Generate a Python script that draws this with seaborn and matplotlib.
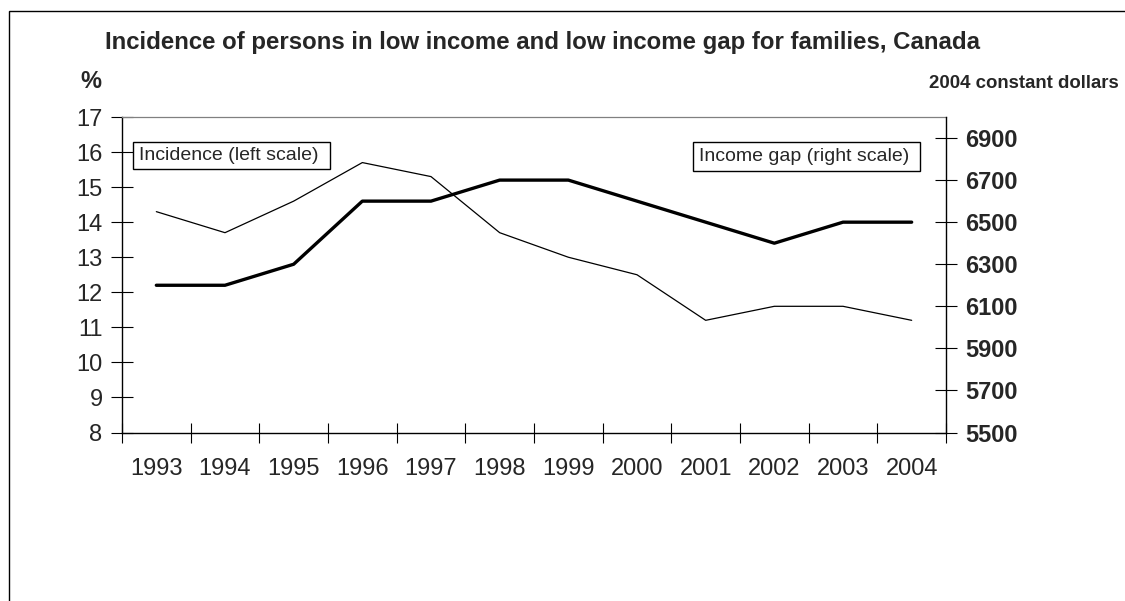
import matplotlib
matplotlib.use("Agg")
import matplotlib.pyplot as plt
import seaborn as sns
import pandas as pd
from matplotlib.patches import Rectangle

years = [1993, 1994, 1995, 1996, 1997, 1998, 1999, 2000, 2001, 2002, 2003, 2004]
incidence = [14.3, 13.7, 14.6, 15.7, 15.3, 13.7, 13.0, 12.5, 11.2, 11.6, 11.6, 11.2]
income_gap = [6200, 6200, 6300, 6600, 6600, 6700, 6700, 6600, 6500, 6400, 6500, 6500]
left_ticks = list(range(8, 18))
right_ticks = list(range(5500, 7000, 200))

title = "Incidence of persons in low income and low income gap for families, Canada"
label_left = "Incidence (left scale)"
label_right = "Income gap (right scale)"

df = pd.DataFrame({"year": years, "incidence": incidence, "gap": income_gap})

sns.set_style("white")
plt.rcParams['font.family'] = ['Liberation Sans', 'DejaVu Sans']

W, H = 1125, 601
fig = plt.figure(figsize=(W / 100, H / 100), dpi=100)
ax = fig.add_axes([122 / W, 1 - 432.5 / H, 824 / W, 315.5 / H])
ax.set_facecolor("white")
ax2 = ax.twinx()

sns.lineplot(data=df, x="year", y="incidence", ax=ax, color="black", linewidth=0.9, legend=False)
sns.lineplot(data=df, x="year", y="gap", ax=ax2, color="black", linewidth=2.4, legend=False)

ax.set_xlim(years[0] - 0.5, years[-1] + 0.5)
ax.set_ylim(8, 17)
ax2.set_ylim(5500, 7000)
ax.set_xlabel("")
ax.set_ylabel("")
ax2.set_ylabel("")

# x ticks: boundaries as major (no label), centers as minor (labels)
ax.set_xticks([y - 0.5 for y in years] + [years[-1] + 0.5])
ax.set_xticklabels([])
ax.set_xticks(years, minor=True)
ax.set_xticklabels([str(y) for y in years], minor=True)
ax.tick_params(axis="x", which="major", direction="inout", length=14, width=0.8, color="black", bottom=True)
ax.tick_params(axis="x", which="minor", length=0, pad=18.5, labelsize=17)

ax.set_yticks(left_ticks)
ax.set_yticklabels([str(v) for v in left_ticks])
ax.tick_params(axis="y", direction="inout", length=16, width=0.8, color="black", left=True, pad=6, labelsize=17)

ax2.set_yticks(right_ticks)
ax2.set_yticklabels([str(v) for v in right_ticks], fontweight="bold")
ax2.tick_params(axis="y", direction="inout", length=16, width=0.8, color="black", right=True, pad=6, labelsize=17)

for s in ["left", "bottom"]:
    ax.spines[s].set_color("black")
    ax.spines[s].set_linewidth(1.0)
ax.spines["top"].set_color("#808080")
ax.spines["top"].set_linewidth(0.9)
ax.spines["right"].set_visible(False)
for s in ["left", "bottom", "top"]:
    ax2.spines[s].set_visible(False)
ax2.spines["right"].set_color("black")
ax2.spines["right"].set_linewidth(1.0)

# Titles
fig.text(105 / W, 1 - 43 / H, title, fontsize=17.3, fontweight="bold", ha="left", va="center")
fig.text(80 / W, 1 - 82 / H, "%", fontsize=17, fontweight="bold", ha="left", va="center")
fig.text(929 / W, 1 - 84 / H, "2004 constant dollars", fontsize=13.4, fontweight="bold", ha="left", va="center")

# Legend-like labelled boxes
fig.patches.append(Rectangle((133 / W, 1 - 169 / H), (330 - 133) / W, 27 / H, fill=False,
                             edgecolor="black", linewidth=1.0, transform=fig.transFigure))
fig.text(139 / W, 1 - 156 / H, label_left, fontsize=14, ha="left", va="center")
fig.patches.append(Rectangle((693 / W, 1 - 170.5 / H), (920 - 693) / W, 28.5 / H, fill=False,
                             edgecolor="black", linewidth=1.0, transform=fig.transFigure))
fig.text(699 / W, 1 - 156.5 / H, label_right, fontsize=14, ha="left", va="center")

# Outer frame
fig.patches.append(Rectangle((9 / W, -0.1), 1.2, 1 - 11 / H + 0.1, fill=False,
                             edgecolor="black", linewidth=1.0, transform=fig.transFigure))

fig.savefig("out.png", dpi=100, facecolor="white")
